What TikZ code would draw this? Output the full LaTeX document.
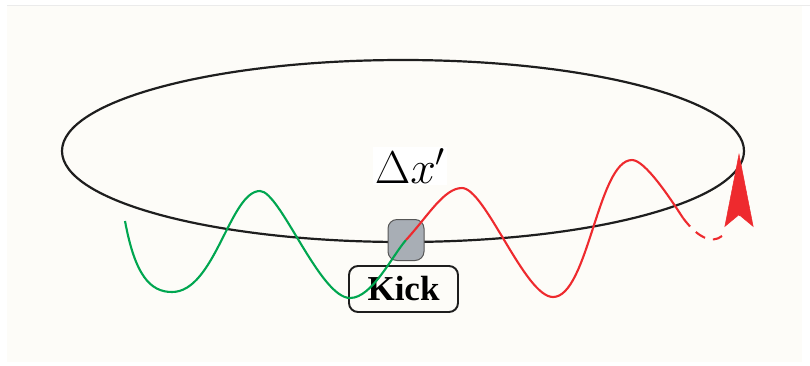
\RequirePackage{fix-cm}
\documentclass[tikz,border=0pt]{standalone}
\usepackage{amsmath}
\usepackage{fontspec}
\newfontfamily\kickfont{Liberation Serif}
\usetikzlibrary{positioning,arrows.meta,calc}
\definecolor{paper}{HTML}{FDFCF8}
\definecolor{ink}{HTML}{1E1E1E}
\definecolor{kickF}{HTML}{A8AEB5}
\definecolor{beamG}{HTML}{00A650}
\definecolor{beamR}{HTML}{EE2A2E}
\tikzset{
  ring/.style={draw=ink, line width=2.2pt},
  kicker/.style={draw=ink!75, line width=1pt, fill=kickF, rounded corners=9pt,
                 minimum width=36pt, minimum height=41pt, inner sep=0pt},
  kicklabel/.style={draw=ink, line width=1.9pt, fill=paper, rounded corners=9pt,
                    minimum width=109pt, minimum height=46pt, inner sep=0pt,
                    font=\kickfont\fontsize{35}{38}\selectfont\bfseries},
  before/.style={draw=beamG, line width=2.1pt},
  after/.style={draw=beamR, line width=2.1pt},
  tag/.style={fill=white, inner sep=2pt, font=\fontsize{46}{50}\selectfont},
}

\begin{document}
\begin{tikzpicture}[x=1pt, y=-1pt]
  \useasboundingbox (0,0) rectangle (810,365);
  \fill[white] (0,0) rectangle (810,365);
  \fill[paper] (7,5) rectangle (802,362);
  \draw[black!8, line width=0.8pt] (7,5) -- (810,5);

  % the ring
  \draw[ring] (403,151) ellipse [x radius=341, y radius=91];

  \node[kicker] (K) at (406,240) {};
  \node[kicklabel] (kick) at (403.5,289) {Kick};

  % orbit before the kick
  \draw[before] (125,221) .. controls (135,275) and (150,292) .. (172,292)
    .. controls (215,292) and (230,191) .. (260,191)
    .. controls (280,191) and (320,298) .. (350,298)
    .. controls (372,298) and (392,256) .. (K.center);

  % orbit after the kick
  \coordinate (d0) at (683,218);
  \coordinate (d1) at (722,236);
  \draw[after] (K.center) .. controls (428,216) and (444,188) .. (462,188)
    .. controls (485,188) and (525,297) .. (553,297)
    .. controls (588,297) and (598,160) .. (632,160)
    .. controls (645,160) and (670,198) .. (d0);
  \draw[after, dash pattern=on 11pt off 8pt] (d0) .. controls (698,238) and (712,244) .. (d1);

  \coordinate (tail) at (739,216);
  \coordinate (tip) at (739,153);
  \draw[beamR, line width=0.5pt, -{Stealth[length=74pt, width=29pt, inset=12pt]}] (tail) -- (tip);

  \node[tag] (dx) at (410,166) {$\Delta x'$};
\end{tikzpicture}
\end{document}
